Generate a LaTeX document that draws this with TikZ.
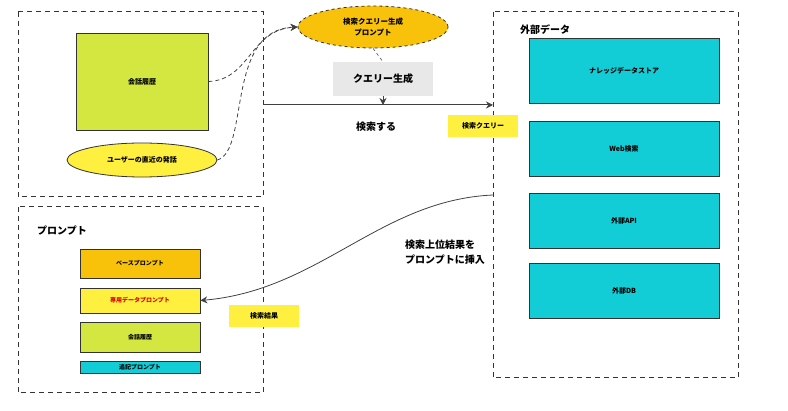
\documentclass[tikz,border=0pt]{standalone}
\usepackage{fontspec}
\setmainfont{Noto Sans CJK JP}
\usetikzlibrary{shapes.geometric,arrows.meta}
\definecolor{lime}{HTML}{D4E640}
\definecolor{yel}{HTML}{FFF040}
\definecolor{org}{HTML}{F8C20A}
\definecolor{teal}{HTML}{12CCD6}
\definecolor{gry}{HTML}{E8E8E8}
\begin{document}
\begin{tikzpicture}[x=1pt,y=-1pt,
 frame/.style={draw=black!80,dashed,dash pattern=on 5pt off 4pt,line width=1pt},
 box/.style={draw=black!80,line width=0.8pt,font=\fontsize{7}{8}\selectfont\bfseries,inner sep=0pt},
 lbl/.style={fill=yel,font=\fontsize{7}{8}\selectfont\bfseries,inner sep=0pt},
 arr/.style={draw=black!75,line width=1pt,-{Stealth[length=7pt,width=7pt]}},
 darr/.style={draw=black!75,line width=0.8pt,dashed,dash pattern=on 4pt off 3pt,-{Stealth[length=7pt,width=7pt]}}]
\useasboundingbox (0,0) rectangle (788,411);
\draw[frame] (18,12) rectangle (263,197);
\draw[frame] (18,207) rectangle (263,393);
\draw[frame] (493,12) rectangle (738,378);
\node[box,fill=lime,minimum width=132pt,minimum height=97pt] (hist) at (142,81.5) {会話履歴};
\node[box,ellipse,fill=yel,minimum width=150pt,minimum height=34pt] (utt) at (142,160) {ユーザーの直近の発話};
\node[box,ellipse,fill=org,dashed,minimum width=150pt,minimum height=42pt,align=center,font=\fontsize{7.5}{11}\selectfont\bfseries] (qp) at (373,27) {検索クエリー生成\\プロンプト};
\node[fill=gry,minimum width=100pt,minimum height=34pt,font=\fontsize{10}{12}\selectfont\bfseries,inner sep=0pt] (qg) at (383,79) {クエリー生成};
\draw[black!70,dashed,line width=0.6pt] (qp.south) -- (qg.north);
\coordinate (hs) at (263,105);
\coordinate (he) at (493,105);
\coordinate (hm) at (383,105);
\draw[arr] (hs) -- (he);
\draw[arr] (qg.south) -- (hm);
\node[font=\fontsize{10}{12}\selectfont\bfseries] (ss) at (376,127) {検索する};
\node[lbl,minimum width=70pt,minimum height=22pt] (ql) at (483,126) {検索クエリー};
\draw[darr] (hist.east) .. controls (250,80) and (250,30) .. (qp.west);
\draw[darr] (utt.east) .. controls (250,150) and (225,30) .. (qp.west);
\node[font=\fontsize{10}{12}\selectfont\bfseries] (ext) at (545,30) {外部データ};
\node[box,fill=teal,minimum width=190pt,minimum height=65pt] (k1) at (624,70.5) {ナレッジデータストア};
\node[box,fill=teal,minimum width=190pt,minimum height=55pt] (k2) at (624,148.5) {Web検索};
\node[box,fill=teal,minimum width=190pt,minimum height=55pt] (k3) at (624,220.5) {外部API};
\node[box,fill=teal,minimum width=190pt,minimum height=55pt] (k4) at (624,290.5) {外部DB};
\node[font=\fontsize{10}{12}\selectfont\bfseries] (pt) at (62,231) {プロンプト};
\node[box,fill=org,minimum width=120pt,minimum height=29pt,font=\fontsize{6}{7}\selectfont\bfseries] (p1) at (140,263.5) {ベースプロンプト};
\node[box,fill=yel,minimum width=120pt,minimum height=25pt,font=\fontsize{6}{7}\selectfont\bfseries,text=red!85!black] (p2) at (140,300.5) {専用データプロンプト};
\node[box,fill=lime,minimum width=120pt,minimum height=30pt,font=\fontsize{6}{7}\selectfont\bfseries] (p3) at (140,337) {会話履歴};
\node[box,fill=teal,minimum width=120pt,minimum height=12pt,font=\fontsize{6}{7}\selectfont\bfseries] (p4) at (140,367) {追記プロンプト};
\node[lbl,minimum width=70pt,minimum height=22pt] (rl) at (264,316) {検索結果};
\coordinate (cs) at (493,195);
\draw[arr,line width=0.8pt] (cs) .. controls (380,200) and (320,290) .. (p2.east);
\node[font=\fontsize{10}{15}\selectfont\bfseries,align=left] (ins) at (445,252) {検索上位結果を\\プロンプトに挿入};
\end{tikzpicture}
\end{document}
